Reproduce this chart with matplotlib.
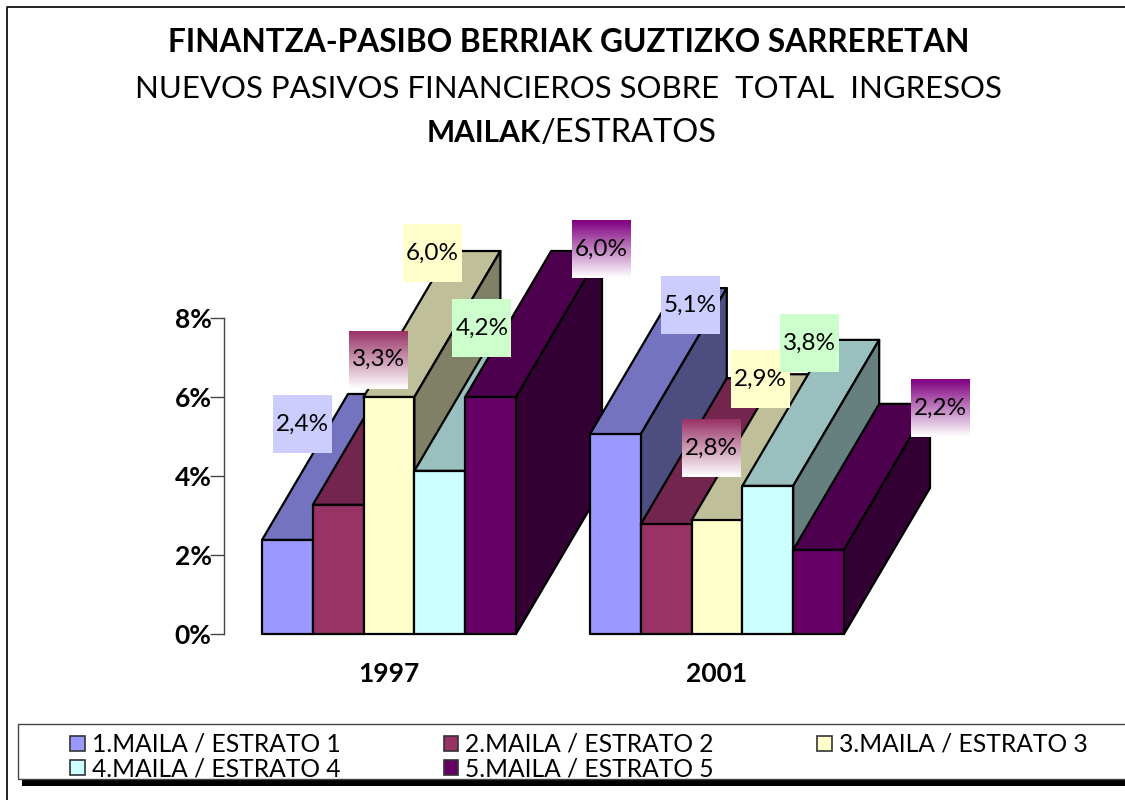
# Finantza-pasibo berriak: 3D style grouped bars

import numpy as np
import matplotlib
matplotlib.use("Agg")
import matplotlib.pyplot as plt
from matplotlib.colors import LinearSegmentedColormap
from matplotlib.patches import Patch, Polygon, Rectangle

W, H = 1125, 800

years = ["1997", "2001"]
series = ["1.MAILA / ESTRATO 1", "2.MAILA / ESTRATO 2", "3.MAILA / ESTRATO 3",
          "4.MAILA / ESTRATO 4", "5.MAILA / ESTRATO 5"]
# bar heights, the printed labels are rounded differently
values_1997 = [2.38, 3.27, 6.0, 4.13, 6.0]
values_2001 = [5.06, 2.78, 2.88, 3.75, 2.13]
labels_1997 = ["2,4%", "3,3%", "6,0%", "4,2%", "6,0%"]
labels_2001 = ["5,1%", "2,8%", "2,9%", "3,8%", "2,2%"]
y_ticks = [0, 2, 4, 6, 8]

front_colors = ["#9999ff", "#993366", "#ffffcc", "#ccffff", "#660066"]
top_colors = ["#7373bf", "#73264d", "#bfbf99", "#99bfbf", "#4d004d"]
side_colors = ["#4d4d80", "#4d1a33", "#808066", "#668080", "#330033"]
label_colors = ["#ccccff", "#993366", "#ffffcc", "#ccffcc", "#800080"]
label_gradient = [False, True, False, False, True]

# pixel scale of the chart area
px_x = 50.8
px_y = 39.5
x0 = 262
y0 = 634
depth_x = 86 / px_x
depth_y = 146 / px_y
group_step = 328 / px_x

# shift of each value label from the centre of its bar top, in pixels
label_shift_1997 = [(-28, -43), (-3, -72), (0, -71), (-1, -70), (68, -75)]
label_shift_2001 = [(32, -56), (2, -3), (0, -68), (-1, -70), (79, -69)]

plt.rcParams["font.family"] = ["Lato", "DejaVu Sans"]

fig = plt.figure(figsize=(W / 100, H / 100), dpi=100)
ax = fig.add_axes([0, 0, 1, 1])
ax.patch.set_visible(False)


def px(x):
    return (x - x0) / px_x


def py(y):
    return (y0 - y) / px_y


def draw_bar(left, value, i):
    right = left + 1
    edge = dict(edgecolor="black", linewidth=1.6, joinstyle="round")
    ax.add_patch(Polygon([(left, value), (right, value),
                          (right + depth_x, value + depth_y), (left + depth_x, value + depth_y)],
                         facecolor=top_colors[i], **edge))
    ax.add_patch(Polygon([(right, 0), (right + depth_x, depth_y),
                          (right + depth_x, value + depth_y), (right, value)],
                         facecolor=side_colors[i], **edge))
    ax.add_patch(Rectangle((left, 0), 1, value, facecolor=front_colors[i], **edge))


for g, vals in enumerate([values_1997, values_2001]):
    for i, v in enumerate(vals):
        draw_bar(g * group_step + i, v, i)

# value labels
groups = [(values_1997, labels_1997, label_shift_1997), (values_2001, labels_2001, label_shift_2001)]
for g, (vals, texts, shifts) in enumerate(groups):
    for i, v in enumerate(vals):
        cx = g * group_step + i + 0.5 + depth_x / 2 + shifts[i][0] / px_x
        cy = v + depth_y / 2 - shifts[i][1] / px_y
        hw = 29.5 / px_x
        hh = 29 / px_y
        z = 3 + g * 0.1 + i * 0.01
        if label_gradient[i]:
            cmap = LinearSegmentedColormap.from_list("lab", [label_colors[i], "#ffffff"])
            ax.imshow(np.linspace(0, 1, 60).reshape(-1, 1), cmap=cmap, aspect="auto",
                      extent=(cx - hw, cx + hw, cy - hh, cy + hh), origin="upper", zorder=z)
        else:
            ax.add_patch(Rectangle((cx - hw, cy - hh), 2 * hw, 2 * hh, facecolor=label_colors[i],
                                   edgecolor="none", zorder=z))
        ax.text(cx, cy, texts[i], ha="center", va="center", fontsize=17.5, color="black", zorder=z + 0.005)

# limits set after imshow, which changes them
ax.set_xlim(-x0 / px_x, (W - x0) / px_x)
ax.set_ylim((y0 - H) / px_y, y0 / px_y)

# axes, spine positions first because they reset the ticks
for s in ["top", "right", "bottom"]:
    ax.spines[s].set_visible(False)
ax.spines["bottom"].set_position(("data", 0))
ax.spines["left"].set_position(("data", px(224)))
ax.spines["left"].set_bounds(0, 8)
ax.spines["left"].set_linewidth(1)
ax.spines["left"].set_color("#444444")
ax.set_yticks(y_ticks)
ax.set_yticklabels([f"{t}%" for t in y_ticks], fontsize=19, fontweight="bold")
ax.tick_params(axis="y", length=10, width=1, color="#444444", pad=-1)
ax.set_xticks([2.5, group_step + 2.5])
ax.set_xticklabels(years, fontsize=19, fontweight="bold")
ax.tick_params(axis="x", length=0, pad=20)

# titles
fig.text(569 / W, 1 - 42 / H, "FINANTZA-PASIBO BERRIAK GUZTIZKO SARRERETAN", ha="center", va="center",
         fontsize=22.8, fontweight="bold")
fig.text(568 / W, 1 - 89 / H, "NUEVOS PASIVOS FINANCIEROS SOBRE  TOTAL  INGRESOS", ha="center", va="center",
         fontsize=22.4)
fig.text(427 / W, 1 - 133 / H, "MAILAK", ha="left", va="center", fontsize=21.5, fontweight="bold")
fig.text(541 / W, 1 - 133 / H, "/ESTRATOS", ha="left", va="center", fontsize=23.4)

# page frame
ax.plot([px(7), px(7), px(W)], [py(H), py(7), py(7)], color="black", lw=1.2, clip_on=False)

# legend box with its shadow
ax.add_patch(Rectangle((px(22), py(786)), px(W + 5) - px(22), 7 / px_y, facecolor="black",
                       edgecolor="none", zorder=4))
ax.add_patch(Rectangle((px(18), py(779)), px(W + 5) - px(18), 55 / px_y, facecolor="white",
                       edgecolor="#444444", linewidth=1, zorder=4.1))

# legend, filled row by row
order = [0, 3, 1, 4, 2]
handles = [Patch(facecolor=front_colors[i], edgecolor="#333333", linewidth=1.2) for i in order]
leg = fig.legend(handles, [series[i] for i in order], ncol=3, frameon=False,
                 bbox_to_anchor=(70 / W, 1 - 733 / H), loc="upper left",
                 fontsize=17.7, borderaxespad=0, borderpad=0, columnspacing=4.2,
                 handlelength=0.6, handleheight=0.6, handletextpad=0.28, labelspacing=0.05)
leg.set_zorder(5)

fig.savefig("out.png", dpi=100)
